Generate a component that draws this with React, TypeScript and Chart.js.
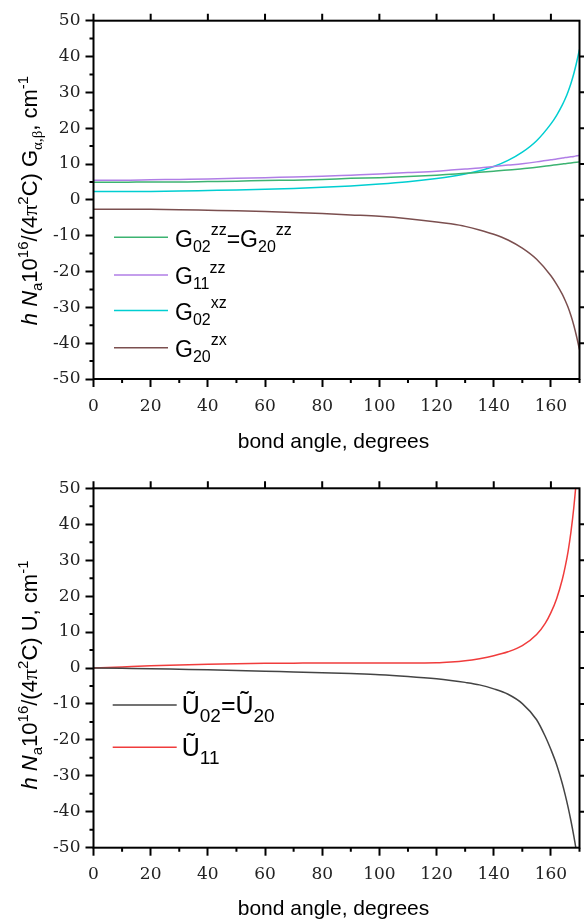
import React, { useEffect, useRef } from 'react';
import { Chart, registerables } from 'chart.js';
Chart.register(...registerables);

// ---------- DATA ----------
const topAngles = [0, 10, 20, 30, 40, 50, 60, 70, 80, 90, 100, 110, 120, 125, 130, 135, 140, 145, 150, 155, 160, 162, 164, 165, 166, 167, 168, 169, 170];
const g02zz = [4.9, 4.9, 5.0, 5.0, 5.1, 5.2, 5.4, 5.5, 5.7, 6.0, 6.2, 6.5, 6.9, 7.15, 7.4, 7.7, 8.0, 8.3, 8.7, 9.1, 9.6, 9.8, 10.0, 10.1, 10.2, 10.3, 10.4, 10.5, 10.6];
const g11zz = [5.5, 5.5, 5.6, 5.7, 5.8, 6.0, 6.2, 6.4, 6.6, 6.9, 7.2, 7.6, 8.0, 8.3, 8.6, 8.9, 9.3, 9.7, 10.1, 10.6, 11.2, 11.4, 11.7, 11.8, 11.9, 12.0, 12.1, 12.3, 12.4];
const g02xz = [2.3, 2.3, 2.35, 2.45, 2.6, 2.75, 2.95, 3.2, 3.5, 3.9, 4.4, 5.05, 5.95, 6.5, 7.2, 8.1, 9.3, 11.0, 13.3, 16.5, 21.2, 23.6, 26.5, 28.2, 30.2, 32.5, 35.2, 38.4, 42.0];
const g20zx = [-2.6, -2.6, -2.65, -2.75, -2.9, -3.05, -3.25, -3.5, -3.8, -4.2, -4.6, -5.25, -6.15, -6.7, -7.4, -8.4, -9.6, -11.2, -13.5, -16.6, -21.2, -23.6, -26.4, -28.1, -30.0, -32.3, -35.0, -38.2, -41.8];

const botAngles = [0, 10, 20, 30, 40, 50, 60, 70, 80, 90, 100, 110, 120, 125, 130, 135, 140, 145, 150, 155, 158, 160, 162, 164, 165, 166, 167, 168, 169, 170];
const u0220 = [0, -0.1, -0.2, -0.35, -0.5, -0.7, -0.9, -1.1, -1.3, -1.55, -1.85, -2.35, -3.0, -3.45, -4.0, -4.7, -5.8, -7.3, -9.9, -14.4, -19.0, -22.7, -26.9, -32.2, -35.3, -38.7, -42.5, -46.7, -51.4, -56.7];
const u11 = [0, 0.3, 0.6, 0.85, 1.05, 1.2, 1.3, 1.35, 1.4, 1.4, 1.4, 1.4, 1.45, 1.65, 2.0, 2.6, 3.4, 4.5, 6.2, 9.3, 12.4, 15.4, 19.3, 24.7, 28.2, 32.4, 37.8, 44.6, 53.5, 66.0];

const xTitle = 'bond angle, degrees';
const xMin = 0, xMax = 170, xStep = 20;
const yMin = -50, yMax = 50, yStep = 10;

// ---------- helpers ----------
const SANS = '"Liberation Sans", Arial, sans-serif';
const SERIF = '"Liberation Serif", "Times New Roman", serif';
type Seg = { t: string; size: number; dy?: number; italic?: boolean; serif?: boolean };

function fontOf(s: Seg) {
  return `${s.italic ? 'italic ' : ''}${s.size}px ${s.serif ? SERIF : SANS}`;
}
function drawRich(ctx: CanvasRenderingContext2D, segs: Seg[], x: number, y: number, align: 'left' | 'center') {
  ctx.textAlign = 'left';
  ctx.textBaseline = 'alphabetic';
  let total = 0;
  for (const s of segs) { ctx.font = fontOf(s); total += ctx.measureText(s.t).width; }
  let cx = align === 'center' ? x - total / 2 : x;
  for (const s of segs) {
    ctx.font = fontOf(s);
    ctx.fillText(s.t, cx, y + (s.dy || 0));
    cx += ctx.measureText(s.t).width;
  }
}

type LegendItem = { color: string; segs: Seg[] };
type Cfg = {
  padTop: number;
  xAxisH: number;
  datasets: { label: string; x: number[]; y: number[]; color: string }[];
  yTitle: Seg[];
  yTitleCenter: number;
  xTitleY: number;
  legend: LegendItem[];
  legendRows: number[];
  legendLine: [number, number];
  legendTextX: number;
};

function makeChart(canvas: HTMLCanvasElement, cfg: Cfg) {
  const decor = {
    id: 'decor',
    afterDraw(chart: any) {
      const ctx: CanvasRenderingContext2D = chart.ctx;
      const { left, right, top, bottom } = chart.chartArea;
      const xs = chart.scales.x, ys = chart.scales.y;
      ctx.save();
      ctx.strokeStyle = '#000';
      ctx.lineWidth = 2;
      ctx.strokeRect(left, top, right - left, bottom - top);
      ctx.beginPath();
      for (let v = yMin + 5; v < yMax; v += 10) {
        const py = ys.getPixelForValue(v);
        ctx.moveTo(left - 4, py); ctx.lineTo(left, py);
      }
      for (let v = yMin + yStep; v < yMax; v += yStep) {
        const py = ys.getPixelForValue(v);
        ctx.moveTo(right, py); ctx.lineTo(right + 6, py);
      }
      for (let v = 10; v <= xMax; v += 20) {
        const px = xs.getPixelForValue(v);
        ctx.moveTo(px, bottom); ctx.lineTo(px, bottom + 4);
      }
      for (let v = xMin; v < xMax; v += xStep) {
        const px = xs.getPixelForValue(v);
        ctx.moveTo(px, top); ctx.lineTo(px, top - 7);
      }
      ctx.stroke();

      ctx.fillStyle = '#000';
      ctx.font = `21px ${SANS}`;
      ctx.textAlign = 'center';
      ctx.textBaseline = 'middle';
      ctx.fillText(xTitle, (left + right) / 2 - 3, cfg.xTitleY);

      ctx.save();
      ctx.translate(37, cfg.yTitleCenter);
      ctx.rotate(-Math.PI / 2);
      drawRich(ctx, cfg.yTitle, 0, 0, 'center');
      ctx.restore();

      cfg.legend.forEach((it, i) => {
        const ry = cfg.legendRows[i];
        ctx.strokeStyle = it.color;
        ctx.lineWidth = 1.5;
        ctx.beginPath();
        ctx.moveTo(cfg.legendLine[0], ry);
        ctx.lineTo(cfg.legendLine[1], ry);
        ctx.stroke();
        ctx.fillStyle = '#000';
        drawRich(ctx, it.segs, cfg.legendTextX, ry, 'left');
      });
      ctx.restore();
    },
  };

  const tickFont = { family: '"DejaVu Serif", serif', size: 17 };
  return new Chart(canvas, {
    type: 'line',
    data: {
      datasets: cfg.datasets.map((d) => ({
        label: d.label,
        data: d.x.map((xv, i) => ({ x: xv, y: d.y[i] })),
        borderColor: d.color,
        backgroundColor: d.color,
        borderWidth: 1.5,
        pointRadius: 0,
        cubicInterpolationMode: 'monotone' as const,
        fill: false,
      })),
    },
    options: {
      animation: false,
      responsive: false,
      events: [],
      layout: { padding: { top: cfg.padTop, right: 4.5, left: 0, bottom: 0 } },
      plugins: { legend: { display: false }, tooltip: { enabled: false }, title: { display: false } },
      scales: {
        x: {
          type: 'linear',
          min: xMin,
          max: xMax,
          afterBuildTicks: (s: any) => {
            const t: any[] = [];
            for (let v = xMin; v < xMax; v += xStep) t.push({ value: v });
            s.ticks = t;
          },
          afterFit: (s: any) => { s.height = cfg.xAxisH; },
          ticks: { stepSize: xStep, color: '#222', font: tickFont, padding: 9, maxRotation: 0, autoSkip: false },
          grid: { display: true, drawOnChartArea: false, drawTicks: true, tickLength: 8, tickWidth: 2, tickColor: '#000', color: '#000' },
          border: { display: false },
        },
        y: {
          type: 'linear',
          min: yMin,
          max: yMax,
          afterFit: (s: any) => { s.width = 93.5; },
          ticks: { stepSize: yStep, color: '#222', font: tickFont, padding: 5 },
          grid: { display: true, drawOnChartArea: false, drawTicks: true, tickLength: 8, tickWidth: 2, tickColor: '#000', color: '#000' },
          border: { display: false },
        },
      },
    },
    plugins: [decor],
  } as any);
}

const yTitleBase = (symbol: Seg[]): Seg[] => [
  { t: 'h', size: 22, italic: true },
  { t: ' ', size: 22 },
  { t: 'N', size: 22, italic: true },
  { t: 'a', size: 15, dy: 5 },
  { t: '10', size: 22 },
  { t: '16', size: 15, dy: -9 },
  { t: '/(4', size: 22 },
  { t: 'π', size: 22, serif: true },
  { t: '2', size: 15, dy: -9 },
  { t: 'C) ', size: 22 },
  ...symbol,
  { t: ', cm', size: 22 },
  { t: '-1', size: 15, dy: -9 },
];

const gSeg = (sub: string, sup: string): Seg[] => [
  { t: 'G', size: 23, dy: 9.4 },
  { t: sub, size: 16, dy: 14.4 },
  { t: sup, size: 16, dy: -2.3 },
];

const topCfg: Cfg = {
  padTop: 20.7,
  xAxisH: 81,
  datasets: [
    { label: 'G02zz=G20zz', x: topAngles, y: g02zz, color: '#3cb371' },
    { label: 'G11zz', x: topAngles, y: g11zz, color: '#b07ee6' },
    { label: 'G02xz', x: topAngles, y: g02xz, color: '#00ced1' },
    { label: 'G20zx', x: topAngles, y: g20zx, color: '#7b4f4f' },
  ],
  yTitle: yTitleBase([
    { t: 'G', size: 22 },
    { t: 'α,β', size: 15, dy: 5, serif: true },
  ]),
  yTitleCenter: 200.5,
  xTitleY: 442,
  legend: [
    { color: '#3cb371', segs: [...gSeg('02', 'zz'), { t: '=', size: 23, dy: 9.4 }, ...gSeg('20', 'zz')] },
    { color: '#b07ee6', segs: gSeg('11', 'zz') },
    { color: '#00ced1', segs: gSeg('02', 'xz') },
    { color: '#7b4f4f', segs: gSeg('20', 'zx') },
  ],
  legendRows: [237.3, 275, 310.5, 347.7],
  legendLine: [114, 168],
  legendTextX: 175,
};

const uSeg = (sub: string): Seg[] => [
  { t: 'Ũ', size: 25, dy: 8.5 },
  { t: sub, size: 19, dy: 17 },
];

const botCfg: Cfg = {
  padTop: 28.3,
  xAxisH: 72.3,
  datasets: [
    { label: 'Ũ02=Ũ20', x: botAngles, y: u0220, color: '#444444' },
    { label: 'Ũ11', x: botAngles, y: u11, color: '#f03c3c' },
  ],
  yTitle: yTitleBase([{ t: 'U', size: 22 }]),
  yTitleCenter: 215,
  xTitleY: 449.7,
  legend: [
    { color: '#444444', segs: [...uSeg('02'), { t: '=', size: 25, dy: 8.5 }, ...uSeg('20')] },
    { color: '#f03c3c', segs: uSeg('11') },
  ],
  legendRows: [245, 287.3],
  legendLine: [112.7, 176.7],
  legendTextX: 181.7,
};

function ChartBox({ cfg }: { cfg: Cfg }) {
  const ref = useRef<HTMLCanvasElement>(null);
  useEffect(() => {
    if (!ref.current) return;
    const c = makeChart(ref.current, cfg);
    return () => c.destroy();
  }, [cfg]);
  return <canvas ref={ref} width={584} height={460} style={{ display: 'block', width: 584, height: 460 }} />;
}

export default function App() {
  return (
    <div style={{ position: 'absolute', left: 0, top: 0, width: 584, height: 920, background: '#fff' }}>
      <ChartBox cfg={topCfg} />
      <ChartBox cfg={botCfg} />
    </div>
  );
}
